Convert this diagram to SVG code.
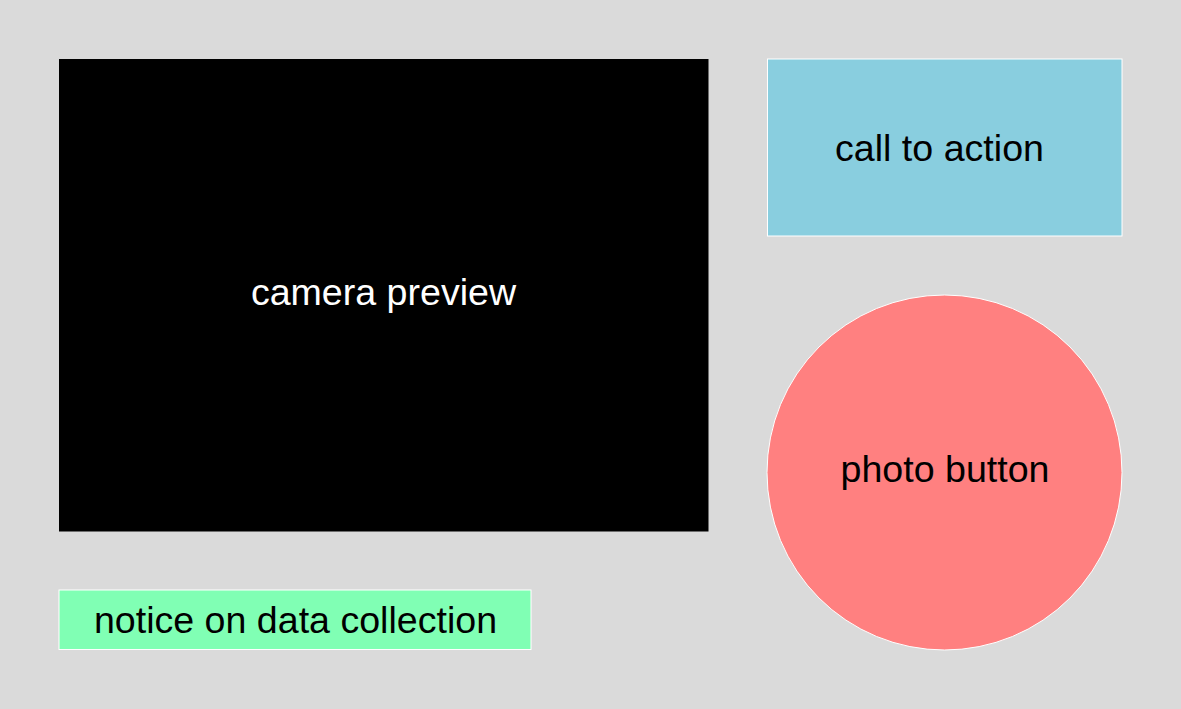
<svg xmlns="http://www.w3.org/2000/svg" width="1181" height="709" viewBox="0 0 1181 709">
<style>
.lbl{font-family:"Liberation Sans",Arial,sans-serif;font-size:37.6px;text-anchor:middle}
.edge{stroke:#ffffff;stroke-width:1}
</style>
<rect x="0" y="0" width="1181" height="709" fill="#dadada"/>
<g id="camera-preview">
<rect x="59" y="59" width="649.5" height="472.5" fill="#000000"/>
<text class="lbl" x="383.5" y="305" fill="#ffffff">camera preview</text>
</g>
<g id="call-to-action">
<rect class="edge" x="767.5" y="59" width="354.5" height="177" fill="#89cedf"/>
<text class="lbl" x="939.5" y="161" fill="#000000">call to action</text>
</g>
<g id="photo-button">
<circle class="edge" cx="944.5" cy="472.5" r="177.5" fill="#ff8080"/>
<text class="lbl" x="945" y="482" fill="#000000">photo button</text>
</g>
<g id="notice">
<rect class="edge" x="59" y="590" width="472" height="59.5" fill="#80ffb4"/>
<text class="lbl" x="295.5" y="633" fill="#000000">notice on data collection</text>
</g>
<g id="connectors"></g>
</svg>
